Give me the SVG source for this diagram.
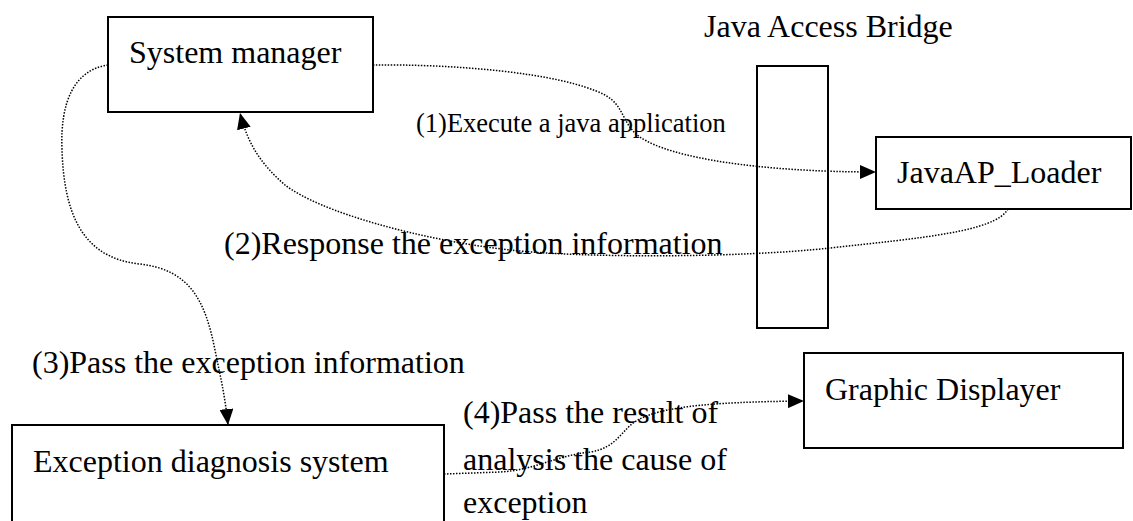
<svg xmlns="http://www.w3.org/2000/svg" width="1133" height="521" viewBox="0 0 1133 521">
<style>
.box{fill:#fff;stroke:#000;stroke-width:2}
.lbl{font-family:"Liberation Serif","Times New Roman",serif;font-size:32px;fill:#000}
.sm{font-size:26.5px}
.con{fill:none;stroke:#000;stroke-width:1.5;stroke-dasharray:1.5 1.5}
</style>
<defs>
<marker id="arr" markerUnits="userSpaceOnUse" markerWidth="16" markerHeight="14" viewBox="0 0 16 14" refX="16" refY="7" orient="auto">
<path d="M0,0 L16,7 L0,14 z" fill="#000"/>
</marker>
</defs>
<rect width="1133" height="521" fill="#fff"/>
<g id="system-manager">
<rect class="box" x="108" y="17" width="265" height="95"/>
<text class="lbl" x="129" y="63">System manager</text>
</g>
<g id="java-access-bridge">
<text class="lbl" x="704" y="37">Java Access Bridge</text>
<rect class="box" x="757" y="66" width="71" height="262"/>
</g>
<g id="javaap-loader">
<rect class="box" x="876" y="137" width="255" height="72"/>
<text class="lbl" x="897" y="183">JavaAP_Loader</text>
</g>
<g id="exception-diagnosis">
<rect class="box" x="12" y="425" width="432" height="110"/>
<text class="lbl" x="33" y="472">Exception diagnosis system</text>
</g>
<g id="graphic-displayer">
<rect class="box" x="804" y="353" width="319" height="95"/>
<text class="lbl" x="825" y="400">Graphic Displayer</text>
</g>
<g id="connectors">
<path class="con" marker-end="url(#arr)" d="M373,65 C450,64 560,72 605,95 C625,106 622,125 640,137 C670,158 760,172 876,172"/>
<path class="con" marker-end="url(#arr)" d="M1008,209 C995,232 920,238 830,248 C740,258 580,258 510,250 C420,240 320,212 285,185 C262,165 248,145 240,113"/>
<path class="con" marker-end="url(#arr)" d="M108,65 C75,70 60,100 62,150 C64,210 80,258 140,264 C190,270 205,300 215,350 C220,375 225,395 228,425"/>
<path class="con" marker-end="url(#arr)" d="M444,474 L500,472 C535,470 555,456 590,452 C618,448 622,428 638,420 C660,408 700,402 804,401"/>
</g>
<g id="labels">
<text class="lbl sm" x="416" y="132">(1)Execute a java application</text>
<text class="lbl" x="224" y="254">(2)Response the exception information</text>
<text class="lbl" x="32" y="373">(3)Pass the exception information</text>
<text class="lbl" x="463" y="423">(4)Pass the result of</text>
<text class="lbl" x="463" y="470">analysis the cause of</text>
<text class="lbl" x="463" y="513">exception</text>
</g>
</svg>
